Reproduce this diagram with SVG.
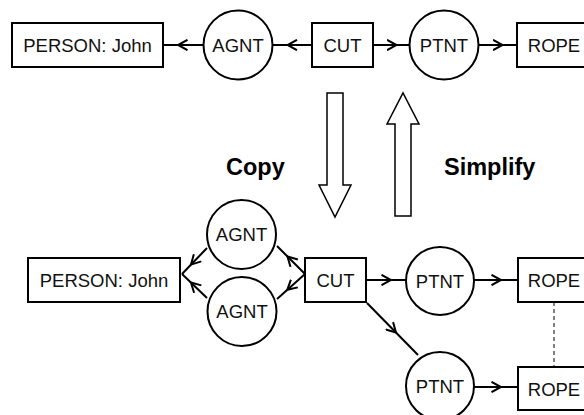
<svg xmlns="http://www.w3.org/2000/svg" width="584" height="415" viewBox="0 0 584 415">
  <defs>
    <style>
      .box { fill: #fff; stroke: #000; stroke-width: 2; }
      .rel { fill: #fff; stroke: #000; stroke-width: 2; }
      .lbl { font-family: "Liberation Sans", Arial, sans-serif; font-size: 18.5px; fill: #111; text-anchor: middle; }
      .op { font-family: "Liberation Sans", Arial, sans-serif; font-size: 23.5px; font-weight: bold; fill: #000; }
      .edge { fill: none; stroke: #000; stroke-width: 2; marker-mid: url(#chev); }
      .big { fill: #fff; stroke: #000; stroke-width: 1.5; stroke-linejoin: miter; }
      .coref { stroke: #000; stroke-width: 1; stroke-dasharray: 4 3; fill: none; }
    </style>
    <!-- open chevron placed halfway along each arc -->
    <marker id="chev" viewBox="0 0 12 12" refX="5" refY="6" markerWidth="12" markerHeight="12" markerUnits="userSpaceOnUse" orient="auto">
      <path d="M0.5,0.8 L10,6 L0.5,11.2" fill="none" stroke="#000" stroke-width="2"/>
    </marker>
  </defs>

  <!-- connectors -->
  <g id="connectors">
    <!-- top graph -->
    <path class="edge" d="M203,45 L183,45 L163,45"/>
    <path class="edge" d="M312,45 L292.5,45 L273,45"/>
    <path class="edge" d="M373,45 L391.5,45 L410,45"/>
    <path class="edge" d="M478,45 L497.5,45 L517,45"/>
    <!-- bottom graph -->
    <path class="edge" d="M207,248 L194.5,261 L182,274"/>
    <path class="edge" d="M207,298 L194.5,286 L182,274"/>
    <path class="edge" d="M305,274 L291,260 L277,246"/>
    <path class="edge" d="M305,274 L291,286.5 L277,299"/>
    <path class="edge" d="M366,280 L386,280 L406,280"/>
    <path class="edge" d="M474,280 L496,280 L518,280"/>
    <path class="edge" d="M367,303 L392.5,329 L418,355"/>
    <path class="edge" d="M474,387 L496,387 L518,387"/>
    <line class="coref" x1="554" y1="302" x2="554" y2="367"/>
  </g>

  <!-- transformation arrows -->
  <g id="copy-arrow">
    <polygon class="big" points="327,93 343,93 343,185 351,185 335,217 319,185 327,185"/>
    <text class="op" x="226" y="175">Copy</text>
  </g>
  <g id="simplify-arrow">
    <polygon class="big" points="395,216 411,216 411,124 419,124 403,93 387,124 395,124"/>
    <text class="op" x="444" y="175">Simplify</text>
  </g>

  <!-- top graph nodes -->
  <g id="t-person">
    <rect class="box" x="12" y="23" width="151" height="44"/>
    <text class="lbl" x="87.5" y="51.6">PERSON: John</text>
  </g>
  <g id="t-agnt">
    <circle class="rel" cx="238" cy="45" r="34.5"/>
    <text class="lbl" x="238" y="51.6">AGNT</text>
  </g>
  <g id="t-cut">
    <rect class="box" x="312" y="23" width="61" height="44"/>
    <text class="lbl" x="342.5" y="51.6">CUT</text>
  </g>
  <g id="t-ptnt">
    <circle class="rel" cx="444" cy="45" r="34.5"/>
    <text class="lbl" x="444" y="51.6">PTNT</text>
  </g>
  <g id="t-rope">
    <rect class="box" x="517" y="23" width="80" height="44"/>
    <text class="lbl" x="554" y="51.6">ROPE</text>
  </g>

  <!-- bottom graph nodes -->
  <g id="b-person">
    <rect class="box" x="28" y="258" width="152" height="44"/>
    <text class="lbl" x="104" y="286.6">PERSON: John</text>
  </g>
  <g id="b-agnt1">
    <circle class="rel" cx="241.5" cy="234.5" r="34.5"/>
    <text class="lbl" x="241.5" y="241">AGNT</text>
  </g>
  <g id="b-agnt2">
    <circle class="rel" cx="242" cy="311.5" r="34.5"/>
    <text class="lbl" x="242" y="318">AGNT</text>
  </g>
  <g id="b-cut">
    <rect class="box" x="305" y="258" width="61" height="44"/>
    <text class="lbl" x="335.5" y="286.6">CUT</text>
  </g>
  <g id="b-ptnt1">
    <circle class="rel" cx="440" cy="281" r="34"/>
    <text class="lbl" x="440" y="287.5">PTNT</text>
  </g>
  <g id="b-rope1">
    <rect class="box" x="518" y="258" width="80" height="44"/>
    <text class="lbl" x="554" y="286.6">ROPE</text>
  </g>
  <g id="b-ptnt2">
    <circle class="rel" cx="440" cy="386" r="34"/>
    <text class="lbl" x="440" y="392.6">PTNT</text>
  </g>
  <g id="b-rope2">
    <rect class="box" x="518" y="367" width="80" height="43"/>
    <text class="lbl" x="554" y="395.5">ROPE</text>
  </g>
</svg>
